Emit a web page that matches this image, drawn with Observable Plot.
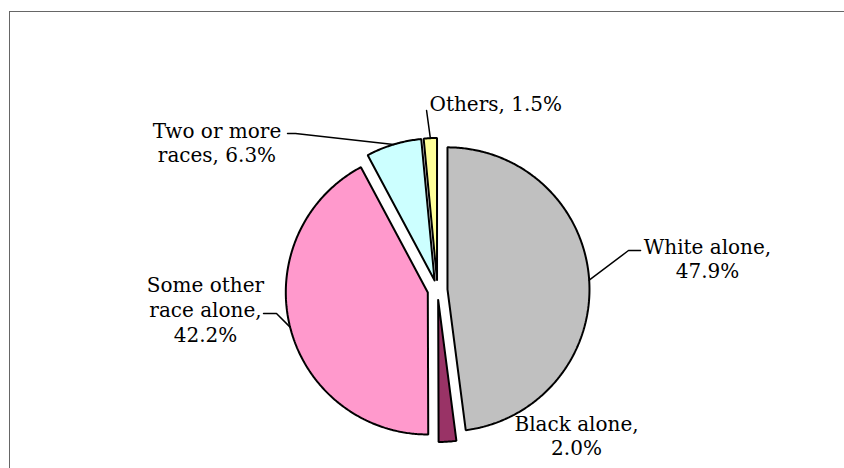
<!DOCTYPE html>
<html><head><meta charset="utf-8">
<script src="https://cdn.jsdelivr.net/npm/d3@7"></script>
<script src="https://cdn.jsdelivr.net/npm/@observablehq/plot@0.6"></script>
<style>
html,body{margin:0;padding:0;background:#fff;}
#wrap{position:relative;width:844px;height:468px;overflow:hidden;}
#chart{position:absolute;left:0;top:0;}
#frame{position:absolute;left:9px;top:11px;width:900px;height:500px;border-left:1.5px solid #666;border-top:1.5px solid #666;}
</style></head><body>
<div id="wrap"><div id="chart"></div><div id="frame"></div></div>
<script>
// ---- data ----
const categories = ["White alone", "Black alone", "Some other race alone", "Two or more races", "Others"];
const values = [47.9, 2.0, 42.2, 6.3, 1.5];
const colors = ["#C0C0C0", "#993366", "#FF99CC", "#CCFFFF", "#FFFF99"];
const labels = ["White alone,\n47.9%", "Black alone,\n2.0%", "Some other\nrace alone,\n42.2%", "Two or more\nraces, 6.3%", "Others, 1.5%"];
// label anchors in pie-radius units (x right, y up from pie centre); y = baseline of last line
const labelX = [1.901, 0.979, -1.634, -1.553, -0.056];
const labelY = [0.081, -1.165, -0.363, 0.898, 1.264];
const labelAlign = ["middle", "middle", "middle", "middle", "start"];
// leader lines: arc midpoint -> elbow -> end (null = no leader)
const elbowX = [1.345, null, -1.134, -1.000, -0.077];
const elbowY = [0.278, null, -0.165, 1.102, 1.264];
const endX = [1.430, null, -1.225, -1.056, -0.077];
const endY = [0.278, null, -0.165, 1.102, 1.264];

// ---- layout ----
const W = 844, H = 468, CX = 437, CY = 289.5, R = 142, EXPLODE = 10;
const e = EXPLODE / R;

const arcs = d3.pie().sort(null).value(d => d)(values);
const slicePts = [];
const leaderPts = [];
arcs.forEach((a, i) => {
  const mid = (a.startAngle + a.endAngle) / 2;
  const ox = e * Math.sin(mid), oy = e * Math.cos(mid);
  slicePts.push({cat: categories[i], x: ox, y: oy});
  const steps = Math.max(2, Math.ceil((a.endAngle - a.startAngle) / 0.01));
  for (let k = 0; k <= steps; k++) {
    const t = a.startAngle + (a.endAngle - a.startAngle) * k / steps;
    slicePts.push({cat: categories[i], x: ox + Math.sin(t), y: oy + Math.cos(t)});
  }
  slicePts.push({cat: categories[i], x: ox, y: oy});
  if (elbowX[i] != null) {
    leaderPts.push({cat: categories[i], x: ox + Math.sin(mid), y: oy + Math.cos(mid)});
    leaderPts.push({cat: categories[i], x: elbowX[i], y: elbowY[i]});
    leaderPts.push({cat: categories[i], x: endX[i], y: endY[i]});
  }
});
const labelRows = categories.map((c, i) => ({cat: c, x: labelX[i], y: labelY[i], text: labels[i], align: labelAlign[i]}));

const font = "DejaVu Serif";
const textOpts = {x: "x", y: "y", text: "text", lineAnchor: "bottom", lineHeight: 1.24, fontSize: 20, fontFamily: font, fill: "black"};

const chart = Plot.plot({
  width: W, height: H,
  marginTop: 0, marginRight: 0, marginBottom: 0, marginLeft: 0,
  style: {background: "transparent", overflow: "visible", fontFamily: font},
  x: {domain: [-CX / R, (W - CX) / R], range: [0, W], axis: null},
  y: {domain: [-(H - CY) / R, CY / R], range: [H, 0], axis: null},
  color: {domain: categories, range: colors},
  marks: [
    Plot.line(slicePts, {x: "x", y: "y", z: "cat", fill: "cat", stroke: "black", strokeWidth: 2, strokeLinejoin: "miter", curve: "linear"}),
    Plot.line(leaderPts, {x: "x", y: "y", z: "cat", stroke: "black", strokeWidth: 1.5, curve: "linear"}),
    Plot.text(labelRows.filter(d => d.align === "middle"), {...textOpts, textAnchor: "middle"}),
    Plot.text(labelRows.filter(d => d.align === "start"), {...textOpts, textAnchor: "start"})
  ]
});
document.getElementById("chart").appendChild(chart);
</script>
</body></html>
